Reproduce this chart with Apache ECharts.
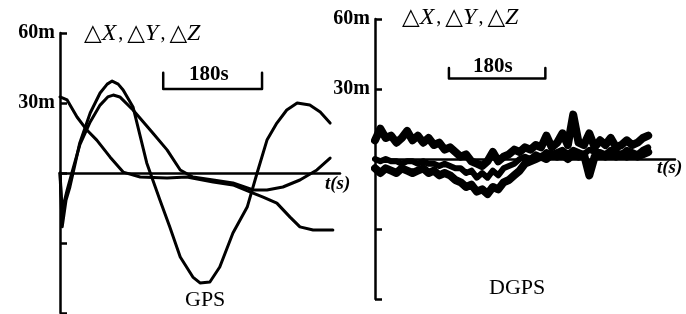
<!DOCTYPE html>
<html>
<head>
<meta charset="utf-8">
<title>GPS / DGPS</title>
<script src="https://cdn.jsdelivr.net/npm/echarts@6/dist/echarts.min.js"></script>
<style>
  html, body { margin: 0; background: #fff; }
  #main { width: 686px; height: 314px; }
</style>
</head>
<body>
<div id="main"></div>
<script>
// GPS panel: three coordinate errors, time (s) / error (m)
var gpsAT = [0, 13, 31, 49, 67, 91, 115, 146, 195, 231, 279, 315, 346, 370, 395, 419, 437, 461, 497];
var gpsAV = [32.6, 31.3, 24, 18.4, 14.1, 6.9, 0.4, -1.7, -2.1, -1.7, -3.9, -5.1, -8.1, -10.3, -12.9, -18.9, -23.1, -24.4, -24.4];

var gpsBT = [0, 4, 11, 18, 27, 36, 55, 73, 86, 95, 106, 115, 133, 158, 182, 200, 219, 242, 255, 273, 291, 315, 341, 359, 377, 395, 413, 432, 455, 474, 492];
var gpsBV = [0, -23, -11.6, -6, 3.4, 12.9, 25.7, 34.3, 38.1, 39.4, 38.1, 35.6, 28.3, 4.3, -11.6, -23.1, -36, -44.6, -47.1, -46.7, -40.3, -25.7, -14.6, 0, 14.1, 21.4, 27, 30, 29.1, 26.1, 21.4];

var gpsCT = [0, 4, 13, 22, 36, 55, 73, 87, 97, 109, 133, 169, 195, 219, 242, 279, 315, 352, 377, 406, 437, 468, 492];
var gpsCV = [0, -15.9, -7.3, 0.4, 12, 21.9, 29.1, 32.6, 33.4, 32.6, 27, 17.1, 9.9, 1.3, -1.7, -3, -4.3, -7.3, -7.3, -6, -3, 1.3, 6.4];

// DGPS panel
var dgpsT = [0, 10, 20, 30, 40, 50, 60, 70, 80, 90, 100, 110, 120, 130, 140, 150, 160, 170, 180, 190,
             200, 210, 220, 230, 240, 250, 260, 270, 280, 290, 300, 310, 320, 330, 340, 350, 360, 370, 380, 390,
             400, 410, 420, 430, 440, 450, 460, 470, 480, 490, 500, 510];
var dgpsU = [8, 13, 9, 10, 7, 9, 12, 8, 10, 7, 9, 6, 7, 4, 5, 3, 1, 2, -1, -2,
             -3, -1, 3, -1, 1, 2, 4, 3, 5, 4, 6, 5, 10, 5, 7, 11, 6, 19, 7, 6,
             11, 5, 8, 6, 9, 5, 6, 8, 6, 7, 9, 10];
var dgpsM = [0, -1, 0, -1, -1, -2, -1, -1, -2, -1, -2, -2, -3, -2, -3, -4, -4, -6, -5, -8,
             -6, -8, -5, -7, -4, -3, -2, 0, 1, 0, 2, 1, 3, 2, 3, 4, 2, 4, 3, 2,
             4, 3, 3, 2, 4, 3, 2, 4, 3, 2, 4, 5];
var dgpsL = [-4, -6, -4, -5, -6, -4, -5, -6, -5, -4, -6, -5, -7, -6, -7, -9, -10, -12, -11, -14,
             -13, -15, -12, -13, -10, -9, -7, -5, -2, -1, 0, 1, 0, 2, 1, 2, 0, 2, 1, 2,
             -7, 1, 2, 1, 2, 1, 2, 1, 2, 1, 2, 3];

// 180 s scale bars (t, m)
var barGps = [[188, 43], [188, 36], [368, 36], [368, 43]];
var barDgps = [[138, 39], [138, 34.5], [318, 34.5], [318, 39]];

var yTickLabels = { 60: '60m', 30: '30m' };

function pairs(t, v) {
  return t.map(function (x, i) { return [x, v[i]]; });
}

var serif = '"Liberation Serif", "DejaVu Serif", serif';

function yAx(idx) {
  return {
    type: 'value', gridIndex: idx, min: -60, max: 60, interval: 30,
    splitLine: { show: false },
    axisLine: { show: true, lineStyle: { color: '#000', width: 2.5 } },
    axisTick: { show: true, inside: true, length: 7, lineStyle: { color: '#000', width: 2.5 } },
    axisLabel: {
      color: '#000', fontFamily: serif, fontSize: 20, fontWeight: 'bold', margin: 5,
      formatter: function (v) { return yTickLabels[v] || ''; }
    }
  };
}

function xAx(idx, max) {
  return {
    type: 'value', gridIndex: idx, min: 0, max: max,
    splitLine: { show: false },
    axisLine: { onZero: true, lineStyle: { color: '#000', width: 2.5 } },
    axisTick: { show: false },
    axisLabel: { show: false }
  };
}

function curve(data, xi, w) {
  return {
    type: 'line', xAxisIndex: xi, yAxisIndex: xi, data: data,
    showSymbol: false, symbol: 'none', silent: true,
    lineStyle: { color: '#000', width: w, join: 'round', cap: 'round' }
  };
}

var titleRich = {
  d: { fontFamily: '"DejaVu Sans", sans-serif', fontSize: 23, color: '#000' },
  i: { fontFamily: serif, fontStyle: 'italic', fontSize: 24, color: '#000' },
  c: { fontFamily: serif, fontSize: 20, color: '#000', padding: [0, 4, 0, 2] }
};
var titleText = '{d|△}{i|X}{c|,}{d|△}{i|Y}{c|,}{d|△}{i|Z}';

var chart = echarts.init(document.getElementById('main'), null, { renderer: 'canvas' });
chart.setOption({
  animation: false,
  backgroundColor: '#fff',
  grid: [
    { left: 60, top: 33, width: 280, height: 280 },
    { left: 375, top: 19, width: 300, height: 280 }
  ],
  xAxis: [xAx(0, 510), xAx(1, 560)],
  yAxis: [yAx(0), yAx(1)],
  graphic: [
    { type: 'text', left: 84, top: 22, style: { rich: titleRich, text: titleText } },
    { type: 'text', left: 402, top: 6, style: { rich: titleRich, text: titleText } },
    { type: 'text', left: 189, top: 64, style: { text: '180s', font: 'bold 21px ' + serif, fill: '#000' } },
    { type: 'text', left: 473, top: 56, style: { text: '180s', font: 'bold 21px ' + serif, fill: '#000' } },
    { type: 'text', left: 325, top: 175, style: { text: 't(s)', font: 'italic bold 19px ' + serif, fill: '#000' } },
    { type: 'text', left: 657, top: 159, style: { text: 't(s)', font: 'italic bold 19px ' + serif, fill: '#000' } },
    { type: 'text', left: 185, top: 289, style: { text: 'GPS', font: '22px ' + serif, fill: '#000' } },
    { type: 'text', left: 489, top: 277, style: { text: 'DGPS', font: '22px ' + serif, fill: '#000' } }
  ],
  series: [
    curve(pairs(gpsAT, gpsAV), 0, 3),
    curve(pairs(gpsBT, gpsBV), 0, 3),
    curve(pairs(gpsCT, gpsCV), 0, 3),
    curve(barGps, 0, 2.5),
    curve(pairs(dgpsT, dgpsU), 1, 8),
    curve(pairs(dgpsT, dgpsM), 1, 6),
    curve(pairs(dgpsT, dgpsL), 1, 8),
    curve(barDgps, 1, 2.5)
  ]
});
</script>
</body>
</html>
